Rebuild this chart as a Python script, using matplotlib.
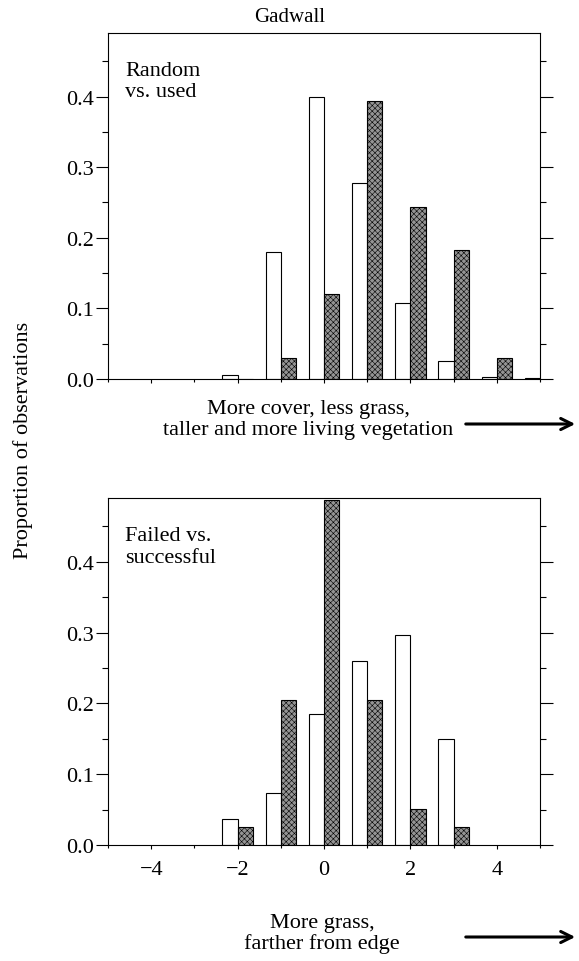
import numpy as np
import matplotlib
matplotlib.use("Agg")
import matplotlib.pyplot as plt
from matplotlib.ticker import MultipleLocator, FormatStrFormatter
from matplotlib.patches import FancyArrowPatch

plt.rcParams['font.family'] = ['Liberation Serif', 'DejaVu Serif']
plt.rcParams['hatch.linewidth'] = 0.4
plt.rcParams['hatch.color'] = '#3a3a3a'

# bins (integer scores) and proportions
bins = [-2, -1, 0, 1, 2, 3, 4, 5]
random_obs = [0.006, 0.180, 0.400, 0.278, 0.107, 0.025, 0.003, 0.002]
used_obs = [0.0, 0.030, 0.121, 0.394, 0.243, 0.182, 0.030, 0.0]

bins2 = [-2, -1, 0, 1, 2, 3]
failed = [0.037, 0.074, 0.185, 0.260, 0.297, 0.149]
successful = [0.026, 0.205, 0.487, 0.205, 0.051, 0.026]

panel_labels = ["Random\nvs. used", "Failed vs.\nsuccessful"]
axis_notes = ["More cover, less grass,\ntaller and more living vegetation",
              "More grass,\nfarther from edge"]

W, H = 579, 962
fig = plt.figure(figsize=(W / 100, H / 100), dpi=100)
ax1 = fig.add_axes([108 / W, 1 - 380 / H, 432 / W, 346 / H])
ax2 = fig.add_axes([108 / W, 1 - 846 / H, 432 / W, 347 / H])

bw = 0.35
grey = dict(color='#949494', edgecolor='black', linewidth=0.8, hatch='xxxxxx')
white = dict(color='white', edgecolor='black', linewidth=0.8)


def style(ax):
    ax.set_xlim(-5, 5)
    ax.set_ylim(0, 0.49)
    ax.yaxis.set_major_locator(MultipleLocator(0.1))
    ax.yaxis.set_minor_locator(MultipleLocator(0.05))
    ax.xaxis.set_major_locator(MultipleLocator(2))
    ax.xaxis.set_minor_locator(MultipleLocator(1))
    ax.yaxis.set_major_formatter(FormatStrFormatter('%.1f'))
    ax.tick_params(axis='y', which='major', direction='out', length=9, width=0.8,
                   left=True, right=True, labelsize=16, pad=1)
    ax.tick_params(axis='y', which='minor', direction='out', length=4, width=0.8,
                   left=True, right=True)
    ax.tick_params(axis='x', which='major', direction='out', length=3, width=0.8,
                   labelsize=16, pad=8)
    ax.tick_params(axis='x', which='minor', direction='out', length=2, width=0.8)
    for s in ax.spines.values():
        s.set_linewidth(0.8)


ax1.bar(np.array(bins) - bw / 2, random_obs, width=bw, **white)
ax1.bar(np.array(bins) + bw / 2, used_obs, width=bw, **grey)
style(ax1)
ax1.tick_params(axis='x', labelbottom=False)
fig.text(290 / W, 1 - 18 / H, "Gadwall", fontsize=15, ha='center', va='center')

ax2.bar(np.array(bins2) - bw / 2, failed, width=bw, **white)
ax2.bar(np.array(bins2) + bw / 2, successful, width=bw, **grey)
style(ax2)
ax2.set_xticks([-4, -2, 0, 2, 4])
ax2.set_xticklabels(['\u22124', '\u22122', '0', '2', '4'])

for ax, lab in zip([ax1, ax2], panel_labels):
    ax.text(0.04, 0.92, lab, transform=ax.transAxes, fontsize=16,
            va='top', ha='left', linespacing=1.2)

fig.text(23 / W, 1 - 440 / H, "Proportion of observations", rotation=90,
         fontsize=16, ha='center', va='center')

# axis direction notes with arrows
for note, x, y, ya in zip(axis_notes, [308, 322], [420, 934], [425, 938]):
    fig.text(x / W, 1 - y / H, note, fontsize=16, ha='center', va='center',
             linespacing=1.1)
    fig.add_artist(FancyArrowPatch(
        (463 / W, 1 - ya / H), (578 / W, 1 - ya / H), transform=fig.transFigure,
        arrowstyle='->,head_length=8,head_width=4', lw=2.2, color='black'))

fig.savefig("out.png", dpi=100)
